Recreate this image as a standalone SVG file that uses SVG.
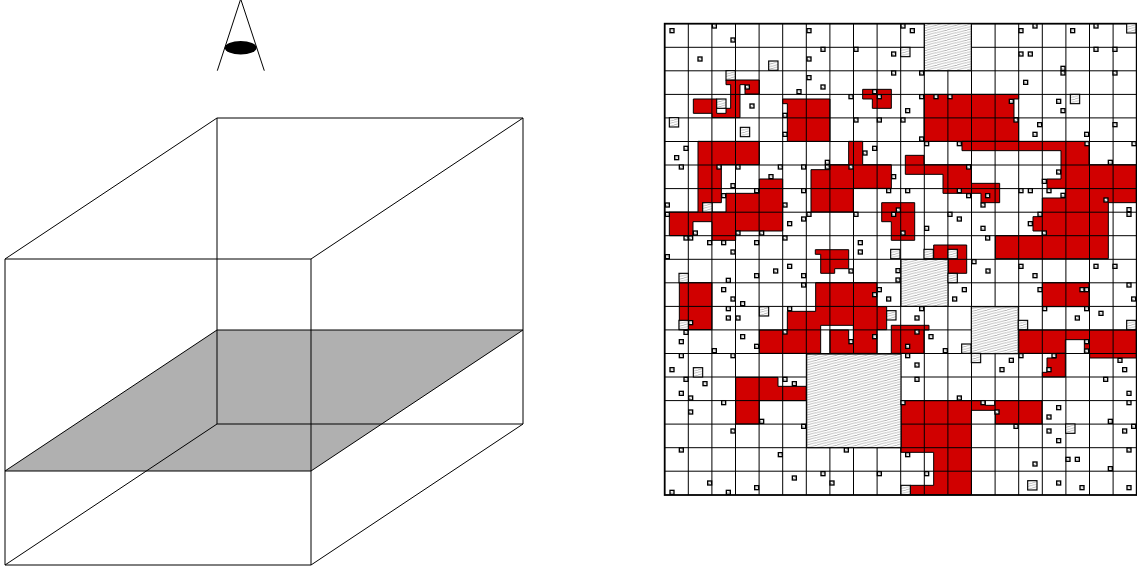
<svg xmlns="http://www.w3.org/2000/svg" xmlns:xlink="http://www.w3.org/1999/xlink" width="1137" height="572" viewBox="0 0 1137 572">
<style>
.l{stroke:#000;stroke-width:1;fill:none}
.g{stroke:#000;stroke-width:1;fill:none}
.r{fill:#d10000;stroke:#000;stroke-width:1}
.rc{fill:#d10000;stroke:#000;stroke-width:3}
.h{fill:url(#h);stroke:#000;stroke-width:4}
.b{fill:url(#h);stroke:#000;stroke-width:3.4}
</style>
<defs>
<pattern id="h" patternUnits="userSpaceOnUse" width="30" height="7.5">
<rect width="30" height="7.5" fill="#fff"/>
<path d="M-6 9L36 -1.5" stroke="#aaa" stroke-width="2.4" fill="none"/>
<path d="M-6 16.5L6 13.5M24 1.5L36 -1.5M-6 1.5L6 -1.5" stroke="#aaa" stroke-width="2.4" fill="none"/>
</pattern>
<rect id="s" x="-6" y="-6" width="12" height="12" class="h"/>
<rect id="m" x="-14" y="-14" width="28" height="28" class="b"/>
</defs>

<g id="cube">
<polygon points="5,471 311,471 523,330 217,330" fill="#b0b0b0" stroke="#000" stroke-width="1"/>
<path class="l" d="M5 259H311V565H5ZM217 118H523V424H217ZM5 259L217 118M311 259L523 118M5 565L217 424M311 565L523 424"/>
</g>
<g id="eye">
<path class="l" d="M217.3 70.7L240.7 -1L264.3 70.7"/>
<ellipse cx="240.7" cy="47.7" rx="16" ry="6.7" fill="#000"/>
</g>

<g id="regions">
<g transform="translate(660 20) scale(.33333)">
<polygon class="rc" points="198,180 298,180 298,222 255,222 255,194 240,194 240,293 156,293 156,280 100,280 100,237 170,237 170,280 198,280 198,265 212,265 212,194 198,194"/>
<polygon class="rc" points="368,237 510,237 510,364 382,364 382,251 368,251"/>
<polygon class="rc" points="608,208 694,208 694,265 637,265 637,237 608,237"/>
<polygon class="rc" points="114,364 298,364 298,434 184,434 184,548 156,548 156,576 198,576 198,520 298,520 298,477 368,477 368,633 227,633 227,661 156,661 156,605 99,605 99,647 28,647 28,576 114,576"/>
<polygon class="rc" points="453,449 510,449 510,434 566,434 566,364 608,364 608,434 694,434 694,505 580,505 580,576 453,576"/>
</g>
<polygon class="r" points="881.7,202.7 914.7,202.7 914.7,240.3 891.3,240.3 891.3,221.7 881.7,221.7"/>
<polygon class="r" points="815.3,249.7 848.7,249.7 848.7,268.7 834.7,268.7 834.7,273.3 820.7,273.3 820.7,254.3 815.3,254.3"/>
<polygon class="r" points="933.7,245 966.7,245 966.7,273.3 948,273.3 948,258.7 933.7,258.7"/>
<polygon class="r" points="891.3,325.3 929,325.3 929,330 924,330 924,353.3 891.3,353.3"/>
<g transform="translate(897 20) scale(.33333)">
<polygon class="rc" points="81,223 365,223 365,237 351,237 351,293 365,293 365,364 81,364"/>
<polygon class="rc" points="195,364 576,364 576,434 718,434 718,548 634,548 634,716 295,716 295,647 436,647 436,633 408,633 408,590 436,590 436,534 505,534 505,505 450,505 450,477 492,477 492,392 195,392"/>
<polygon class="rc" points="25,406 81,406 81,434 223,434 223,490 308,490 308,548 252,548 252,520 138,520 138,463 25,463"/>
</g>
<g transform="translate(660 258) scale(.33333)">
<polygon class="rc" points="58,74 156,74 156,215 58,215"/>
<polygon class="rc" points="467,74 651,74 651,146 680,146 680,215 651,215 651,286 510,286 510,216 566,216 566,245 580,245 580,202 482,202 482,286 298,286 298,216 382,216 382,160 467,160"/>
<polygon class="rc" points="227,358 354,358 354,385 439,385 439,428 298,428 298,498 227,498"/>
</g>
<g transform="translate(897 258) scale(.33333)">
<polygon class="rc" points="436,74 576,74 576,146 436,146"/>
<polygon class="rc" points="365,216 718,216 718,300 578,300 578,286 562,286 562,245 505,245 505,286 365,286"/>
<polygon class="rc" points="450,300 478,300 478,286 505,286 505,357 436,357 436,343 450,343"/>
<polygon class="rc" points="12,428 265,428 265,442 293,442 293,428 435,428 435,498 295,498 295,457 223,457 223,710 40,710 40,682 110,682 110,583 12,583"/>
</g>
</g>

<g id="grid">
<path class="g" d="M688.3 23.7V495M711.9 23.7V495M735.5 23.7V495M759.1 23.7V495M782.7 23.7V495M806.3 23.7V495M829.9 23.7V495M853.5 23.7V495M877.1 23.7V495M900.7 23.7V495M924.3 23.7V495M947.9 23.7V495M971.5 23.7V495M995.1 23.7V495M1018.7 23.7V495M1042.3 23.7V495M1065.9 23.7V495M1089.5 23.7V495M1113.1 23.7V495M664.7 47.3H1136.7M664.7 70.8H1136.7M664.7 94.4H1136.7M664.7 117.9H1136.7M664.7 141.5H1136.7M664.7 165H1136.7M664.7 188.6H1136.7M664.7 212.2H1136.7M664.7 235.7H1136.7M664.7 259.3H1136.7M664.7 282.8H1136.7M664.7 306.4H1136.7M664.7 329.9H1136.7M664.7 353.5H1136.7M664.7 377H1136.7M664.7 400.6H1136.7M664.7 424.1H1136.7M664.7 447.7H1136.7M664.7 471.2H1136.7"/>
<rect x="664.7" y="23.7" width="472" height="471.3" fill="none" stroke="#000" stroke-width="1.8"/>
</g>

<g id="hatched-big" transform="translate(897 20) scale(.33333)">
<rect class="b" x="82" y="11" width="141" height="141"/>
<rect class="b" x="12" y="718" width="141" height="141"/>
<rect class="b" x="223" y="860" width="141" height="141"/>
<rect class="b" x="-271" y="1002" width="283" height="281"/>
</g>

<g id="cells-1" transform="translate(660 20) scale(.33333)">
<use href="#m" x="212" y="166"/><use href="#m" x="184" y="251"/><use href="#m" x="340" y="137"/><use href="#m" x="42" y="307"/><use href="#m" x="255" y="336"/><use href="#m" x="142" y="562"/><use href="#m" x="706" y="702"/>
<use href="#s" x="36" y="32"/><use href="#s" x="163" y="18"/><use href="#s" x="219" y="60"/><use href="#s" x="447" y="32"/><use href="#s" x="120" y="117"/><use href="#s" x="489" y="88"/><use href="#s" x="588" y="88"/><use href="#s" x="701" y="102"/><use href="#s" x="447" y="117"/><use href="#s" x="701" y="159"/><use href="#s" x="447" y="173"/><use href="#s" x="489" y="201"/><use href="#s" x="417" y="215"/><use href="#s" x="262" y="201"/><use href="#s" x="573" y="230"/><use href="#s" x="644" y="215"/><use href="#s" x="658" y="230"/><use href="#s" x="276" y="258"/><use href="#s" x="375" y="286"/><use href="#s" x="375" y="343"/><use href="#s" x="588" y="300"/><use href="#s" x="658" y="300"/><use href="#s" x="78" y="385"/><use href="#s" x="50" y="413"/><use href="#s" x="64" y="441"/><use href="#s" x="177" y="441"/><use href="#s" x="234" y="441"/><use href="#s" x="361" y="441"/><use href="#s" x="431" y="441"/><use href="#s" x="502" y="427"/><use href="#s" x="502" y="441"/><use href="#s" x="573" y="441"/><use href="#s" x="644" y="385"/><use href="#s" x="615" y="399"/><use href="#s" x="701" y="470"/><use href="#s" x="333" y="470"/><use href="#s" x="219" y="497"/><use href="#s" x="290" y="512"/><use href="#s" x="431" y="512"/><use href="#s" x="686" y="512"/><use href="#s" x="191" y="527"/><use href="#s" x="22" y="555"/><use href="#s" x="375" y="555"/><use href="#s" x="22" y="583"/><use href="#s" x="447" y="583"/><use href="#s" x="431" y="597"/><use href="#s" x="389" y="611"/><use href="#s" x="588" y="583"/><use href="#s" x="701" y="583"/><use href="#s" x="715" y="570"/><use href="#s" x="234" y="639"/><use href="#s" x="305" y="639"/><use href="#s" x="106" y="639"/><use href="#s" x="78" y="654"/><use href="#s" x="92" y="654"/><use href="#s" x="375" y="654"/><use href="#s" x="149" y="668"/><use href="#s" x="191" y="668"/><use href="#s" x="290" y="668"/><use href="#s" x="601" y="668"/><use href="#s" x="219" y="696"/><use href="#s" x="601" y="696"/><use href="#s" x="22" y="710"/>
</g>
<g id="cells-2" transform="translate(897 20) scale(.33333)">
<use href="#m" x="25" y="96"/><use href="#m" x="703" y="25"/><use href="#m" x="534" y="237"/><use href="#m" x="167" y="702"/><use href="#m" x="95" y="702"/>
<use href="#s" x="18" y="18"/><use href="#s" x="46" y="32"/><use href="#s" x="372" y="32"/><use href="#s" x="414" y="18"/><use href="#s" x="527" y="32"/><use href="#s" x="597" y="18"/><use href="#s" x="372" y="102"/><use href="#s" x="400" y="102"/><use href="#s" x="597" y="88"/><use href="#s" x="654" y="88"/><use href="#s" x="74" y="159"/><use href="#s" x="498" y="145"/><use href="#s" x="498" y="159"/><use href="#s" x="654" y="159"/><use href="#s" x="386" y="187"/><use href="#s" x="74" y="230"/><use href="#s" x="117" y="230"/><use href="#s" x="159" y="230"/><use href="#s" x="343" y="244"/><use href="#s" x="485" y="244"/><use href="#s" x="32" y="272"/><use href="#s" x="498" y="272"/><use href="#s" x="18" y="300"/><use href="#s" x="357" y="300"/><use href="#s" x="428" y="314"/><use href="#s" x="654" y="314"/><use href="#s" x="414" y="343"/><use href="#s" x="569" y="343"/><use href="#s" x="74" y="357"/><use href="#s" x="89" y="371"/><use href="#s" x="187" y="371"/><use href="#s" x="570" y="371"/><use href="#s" x="711" y="371"/><use href="#s" x="640" y="427"/><use href="#s" x="215" y="441"/><use href="#s" x="485" y="456"/><use href="#s" x="442" y="484"/><use href="#s" x="32" y="512"/><use href="#s" x="187" y="512"/><use href="#s" x="372" y="512"/><use href="#s" x="400" y="512"/><use href="#s" x="456" y="512"/><use href="#s" x="215" y="527"/><use href="#s" x="272" y="527"/><use href="#s" x="498" y="526"/><use href="#s" x="627" y="540"/><use href="#s" x="258" y="555"/><use href="#s" x="696" y="569"/><use href="#s" x="696" y="583"/><use href="#s" x="159" y="583"/><use href="#s" x="429" y="583"/><use href="#s" x="187" y="597"/><use href="#s" x="400" y="611"/><use href="#s" x="89" y="625"/><use href="#s" x="258" y="625"/><use href="#s" x="18" y="639"/><use href="#s" x="442" y="639"/><use href="#s" x="272" y="654"/>
</g>
<g id="cells-3" transform="translate(660 258) scale(.33333)">
<use href="#m" x="71" y="60"/><use href="#m" x="71" y="201"/><use href="#m" x="114" y="343"/><use href="#m" x="312" y="160"/><use href="#m" x="694" y="172"/>
<use href="#s" x="290" y="53"/><use href="#s" x="347" y="39"/><use href="#s" x="389" y="25"/><use href="#s" x="431" y="53"/><use href="#s" x="573" y="39"/><use href="#s" x="714" y="38"/><use href="#s" x="205" y="67"/><use href="#s" x="714" y="66"/><use href="#s" x="431" y="81"/><use href="#s" x="191" y="95"/><use href="#s" x="658" y="95"/><use href="#s" x="644" y="110"/><use href="#s" x="219" y="123"/><use href="#s" x="686" y="123"/><use href="#s" x="248" y="137"/><use href="#s" x="205" y="152"/><use href="#s" x="389" y="152"/><use href="#s" x="205" y="180"/><use href="#s" x="234" y="180"/><use href="#s" x="92" y="194"/><use href="#s" x="78" y="223"/><use href="#s" x="375" y="222"/><use href="#s" x="248" y="236"/><use href="#s" x="64" y="251"/><use href="#s" x="573" y="251"/><use href="#s" x="644" y="236"/><use href="#s" x="290" y="265"/><use href="#s" x="163" y="278"/><use href="#s" x="64" y="293"/><use href="#s" x="219" y="293"/><use href="#s" x="36" y="335"/><use href="#s" x="78" y="364"/><use href="#s" x="135" y="377"/><use href="#s" x="375" y="364"/><use href="#s" x="403" y="377"/><use href="#s" x="64" y="406"/><use href="#s" x="92" y="420"/><use href="#s" x="191" y="434"/><use href="#s" x="92" y="462"/><use href="#s" x="305" y="490"/><use href="#s" x="431" y="505"/><use href="#s" x="219" y="519"/><use href="#s" x="64" y="576"/><use href="#s" x="361" y="590"/><use href="#s" x="559" y="576"/><use href="#s" x="489" y="647"/><use href="#s" x="658" y="647"/><use href="#s" x="149" y="675"/><use href="#s" x="516" y="675"/><use href="#s" x="403" y="660"/><use href="#s" x="290" y="689"/><use href="#s" x="36" y="703"/><use href="#s" x="205" y="703"/>
</g>
<g id="cells-4" transform="translate(897 258) scale(.33333)">
<use href="#m" x="167" y="60"/><use href="#m" x="378" y="201"/><use href="#m" x="703" y="201"/><use href="#m" x="208" y="272"/><use href="#m" x="237" y="300"/><use href="#m" x="406" y="682"/><use href="#m" x="520" y="512"/><use href="#m" x="26" y="696"/>
<use href="#s" x="231" y="11"/><use href="#s" x="273" y="39"/><use href="#s" x="372" y="25"/><use href="#s" x="414" y="53"/><use href="#s" x="597" y="25"/><use href="#s" x="654" y="25"/><use href="#s" x="202" y="95"/><use href="#s" x="173" y="123"/><use href="#s" x="429" y="95"/><use href="#s" x="555" y="95"/><use href="#s" x="569" y="95"/><use href="#s" x="696" y="81"/><use href="#s" x="710" y="123"/><use href="#s" x="74" y="152"/><use href="#s" x="60" y="180"/><use href="#s" x="443" y="152"/><use href="#s" x="569" y="152"/><use href="#s" x="541" y="180"/><use href="#s" x="612" y="166"/><use href="#s" x="60" y="222"/><use href="#s" x="102" y="236"/><use href="#s" x="32" y="265"/><use href="#s" x="145" y="278"/><use href="#s" x="569" y="251"/><use href="#s" x="569" y="279"/><use href="#s" x="32" y="293"/><use href="#s" x="60" y="321"/><use href="#s" x="372" y="293"/><use href="#s" x="471" y="293"/><use href="#s" x="343" y="307"/><use href="#s" x="315" y="335"/><use href="#s" x="456" y="335"/><use href="#s" x="669" y="307"/><use href="#s" x="683" y="335"/><use href="#s" x="60" y="364"/><use href="#s" x="626" y="364"/><use href="#s" x="696" y="406"/><use href="#s" x="187" y="420"/><use href="#s" x="18" y="434"/><use href="#s" x="258" y="434"/><use href="#s" x="300" y="462"/><use href="#s" x="485" y="449"/><use href="#s" x="456" y="477"/><use href="#s" x="696" y="434"/><use href="#s" x="640" y="490"/><use href="#s" x="357" y="505"/><use href="#s" x="710" y="505"/><use href="#s" x="456" y="519"/><use href="#s" x="485" y="548"/><use href="#s" x="683" y="519"/><use href="#s" x="32" y="590"/><use href="#s" x="696" y="576"/><use href="#s" x="414" y="618"/><use href="#s" x="513" y="604"/><use href="#s" x="541" y="604"/><use href="#s" x="640" y="632"/><use href="#s" x="89" y="647"/><use href="#s" x="485" y="675"/><use href="#s" x="555" y="689"/><use href="#s" x="696" y="689"/>
</g>
</svg>
